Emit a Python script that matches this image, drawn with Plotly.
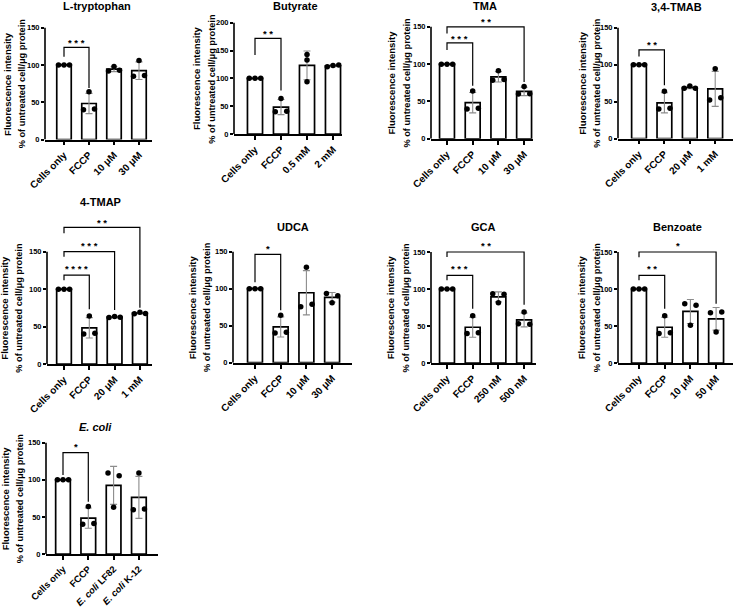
import numpy as np
import plotly.graph_objects as go

W, H = 735, 607
FONT = "Liberation Sans, Arial, sans-serif"

# ---------------- data ----------------
titles = ["L-tryptophan", "Butyrate", "TMA", "3,4-TMAB", "4-TMAP",
          "UDCA", "GCA", "Benzoate", "<i>E. coli</i>"]

categories = [
    ["Cells only", "FCCP", "10 μM", "30 μM"],
    ["Cells only", "FCCP", "0.5 mM", "2 mM"],
    ["Cells only", "FCCP", "10 μM", "30 μM"],
    ["Cells only", "FCCP", "20 μM", "1 mM"],
    ["Cells only", "FCCP", "20 μM", "1 mM"],
    ["Cells only", "FCCP", "10 μM", "30 μM"],
    ["Cells only", "FCCP", "250 nM", "500 nM"],
    ["Cells only", "FCCP", "10 μM", "50 μM"],
    ["Cells only", "FCCP", "<i>E. coli</i> LF82", "<i>E. coli</i> K-12"],
]

y_tick_max = [150, 200, 150, 150, 150, 150, 150, 150, 150]

cells_only = [100, 100, 100]
fccp = [40, 64, 41]

ltrp_10uM = [92, 98, 93]
ltrp_30uM = [85, 106, 86]
butyrate_05mM = [143, 133, 94]
butyrate_2mM = [121, 123, 124]
tma_10uM = [78.5, 91, 79.5]
tma_30uM = [60, 70, 60.5]
tmab_20uM = [68, 71, 68]
tmab_1mM = [52, 94.5, 55]
tmap_20uM = [62, 63.5, 62.5]
tmap_1mM = [67, 69, 67.5]
udca_10uM = [75.5, 129, 79]
udca_30uM = [93.5, 81, 90.5]
gca_250nM = [93.5, 81.5, 93]
gca_500nM = [53, 69, 52.5]
benz_10uM = [80, 51, 78]
benz_50uM = [68, 42, 69]
ecoli_lf82 = [109, 63, 105.5]
ecoli_k12 = [59.5, 109, 60.5]

replicates = [
    [cells_only, fccp, ltrp_10uM, ltrp_30uM],
    [cells_only, fccp, butyrate_05mM, butyrate_2mM],
    [cells_only, fccp, tma_10uM, tma_30uM],
    [cells_only, fccp, tmab_20uM, tmab_1mM],
    [cells_only, fccp, tmap_20uM, tmap_1mM],
    [cells_only, fccp, udca_10uM, udca_30uM],
    [cells_only, fccp, gca_250nM, gca_500nM],
    [cells_only, fccp, benz_10uM, benz_50uM],
    [cells_only, fccp, ecoli_lf82, ecoli_k12],
]

# significance comparisons: (group a, group b, label)
comparisons = [
    [(0, 1, "* * *")],
    [(0, 1, "* *")],
    [(0, 1, "* * *"), (0, 3, "* *")],
    [(0, 1, "* *")],
    [(0, 1, "* * * *"), (0, 2, "* * *"), (0, 3, "* *")],
    [(0, 1, "*")],
    [(0, 1, "* * *"), (0, 3, "* *")],
    [(0, 1, "* *"), (0, 3, "*")],
    [(0, 1, "*")],
]

# ---------------- layout / style ----------------
# bracket geometry in data units: (top, left leg end, right leg end, label y)
bracket_geom = [
    [(123.6, 111, 69, 132.5)],
    [(172, 142, 78, 183.5)],
    [(128.6, 119, 71, 137), (150, 141, 76, 160)],
    [(120, 111, 72, 130)],
    [(118.8, 112, 73, 130), (150, 143.3, 72, 161), (182.5, 174.5, 75, 192)],
    [(146.4, 108.6, 71, 157)],
    [(118.5, 111.7, 73.4, 130), (150, 143.2, 78.8, 161)],
    [(118.5, 111.7, 73.4, 130), (150, 143, 80, 161)],
    [(136.5, 106.4, 70.5, 147)],
]

# ax_left, ax_right, first_bar, spacing, y0, ytop_tick, title_x, title_y, ytitle1_x, ytitle2_x  (pixels)
geom = [
    (45, 152, 64, 25.0, 139.5, 27.7, 97, 6, 7.3, 21.7),
    (234, 342, 255, 26.0, 134.0, 22.7, 295, 6, 196.7, 212.3),
    (431, 533, 447, 25.7, 138.8, 26.8, 485, 6, 391.7, 406.7),
    (618, 733, 639, 25.4, 138.5, 27.7, 676, 7, 581.7, 596.7),
    (47, 152, 64, 25.3, 364.0, 251.7, 100, 202, 4.8, 18.8),
    (233, 352, 255, 25.7, 362.7, 251.7, 293, 227, 192, 207.7),
    (431, 536, 447, 25.7, 363.0, 252.0, 483, 227, 390.7, 405),
    (618, 733, 639, 25.7, 363.0, 252.0, 677, 227, 581.7, 596.7),
    (46, 158, 63, 25.3, 554.0, 442.7, 95, 427, 5, 20),
]
cat_font_size = [10, 10, 10, 10, 10, 10, 10, 10, 9.4]

jitter = [[[-0.22, 0, 0.22]] * 4 for _ in range(9)]
jitter[1][2] = [0, 0, 0]

fig = go.Figure()
shapes, annotations, layout_axes = [], [], {}

for k in range(9):
    (axl, axr, fb, sp, y0, ytop, tx, ty, yt1, yt2) = geom[k]
    tmax = y_tick_max[k]
    ppu = (y0 - ytop) / tmax
    dom_top = ty + 7
    suf = "" if k == 0 else str(k + 1)
    xa, ya = "x" + suf, "y" + suf

    data = replicates[k]
    means = [float(np.mean(v)) for v in data]
    sds = [float(np.std(v, ddof=1)) for v in data]

    fig.add_trace(go.Bar(
        x=list(range(4)), y=means, width=0.58,
        marker=dict(color="white", line=dict(color="black", width=1.7)),
        xaxis=xa, yaxis=ya, showlegend=False, hoverinfo="skip"))

    # SD error bars (only where there is spread)
    ex = [g for g in range(4) if sds[g] > 0]
    fig.add_trace(go.Scatter(
        x=ex, y=[means[g] for g in ex], mode="markers",
        marker=dict(size=1, color="rgba(0,0,0,0)"),
        error_y=dict(type="data", array=[sds[g] for g in ex], color="#8c8c8c",
                     thickness=1.1, width=3.5),
        xaxis=xa, yaxis=ya, showlegend=False, hoverinfo="skip"))

    xs, ys = [], []
    for g, vals in enumerate(data):
        for j, v in enumerate(vals):
            xs.append(g + jitter[k][g][j])
            ys.append(v)
    fig.add_trace(go.Scatter(
        x=xs, y=ys, mode="markers", marker=dict(color="black", size=5.5),
        xaxis=xa, yaxis=ya, showlegend=False, cliponaxis=False, hoverinfo="skip"))

    xr0 = -(fb - axl) / sp
    xr1 = (axr - fb) / sp
    layout_axes["xaxis" + suf] = dict(
        domain=[axl / W, axr / W], range=[xr0, xr1], anchor=ya, automargin=False,
        tickmode="array", tickvals=[0, 1, 2, 3], ticktext=categories[k],
        tickangle=-45, ticks="outside", ticklen=4, tickwidth=1.5, tickcolor="black",
        showline=True, linecolor="black", linewidth=1.6,
        showgrid=False, zeroline=False, fixedrange=True,
        tickfont=dict(family=FONT, size=cat_font_size[k], color="black", weight="bold"))
    layout_axes["yaxis" + suf] = dict(
        domain=[1 - y0 / H, 1 - dom_top / H], range=[0, (y0 - dom_top) / ppu], anchor=xa,
        automargin=False,
        tickmode="array", tickvals=list(range(0, tmax + 1, 50)),
        ticks="outside", ticklen=3, tickwidth=1.5, tickcolor="black",
        showline=False, showgrid=False, zeroline=False, fixedrange=True,
        tickfont=dict(family=FONT, size=7.5, color="black", weight="bold"))

    shapes.append(dict(type="line", xref=xa + " domain", yref=ya, x0=0, x1=0,
                       y0=0, y1=tmax, line=dict(color="black", width=1.6)))

    for (a, b, lab), (top, lb, rb, sy) in zip(comparisons[k], bracket_geom[k]):
        shapes.append(dict(type="path", xref=xa, yref=ya,
                           path=f"M {a},{lb} L {a},{top} L {b},{top} L {b},{rb}",
                           line=dict(color="black", width=1.2)))
        annotations.append(dict(xref=xa, yref=ya, x=(a + b) / 2, y=sy, text=lab,
                                showarrow=False, yshift=-2,
                                font=dict(family=FONT, size=9.5, color="black", weight="bold")))

    annotations.append(dict(xref="paper", yref="paper", x=tx / W, y=1 - ty / H,
                            text=titles[k], showarrow=False, xanchor="center", yanchor="middle",
                            font=dict(family=FONT, size=11, color="black", weight="bold")))
    yc = 1 - ((y0 + ytop) / 2) / H
    annotations.append(dict(xref="paper", yref="paper", x=yt1 / W, y=yc,
                            text="Fluorescence intensity", textangle=-90, showarrow=False,
                            xanchor="center", yanchor="middle",
                            font=dict(family=FONT, size=9.5, color="black", weight="bold")))
    annotations.append(dict(xref="paper", yref="paper", x=yt2 / W, y=yc,
                            text="% of untreated cell/μg protein", textangle=-90, showarrow=False,
                            xanchor="center", yanchor="middle",
                            font=dict(family=FONT, size=9.2, color="black", weight="bold")))

fig.update_layout(
    width=W, height=H, autosize=False,
    margin=dict(l=0, r=0, t=0, b=0, autoexpand=False),
    paper_bgcolor="white", plot_bgcolor="white",
    shapes=shapes, annotations=annotations, bargap=0.4,
    **layout_axes)

fig.write_html("out.html", config={"displayModeBar": False},
               post_script="document.body.style.margin='0';document.body.style.overflow='hidden';")
